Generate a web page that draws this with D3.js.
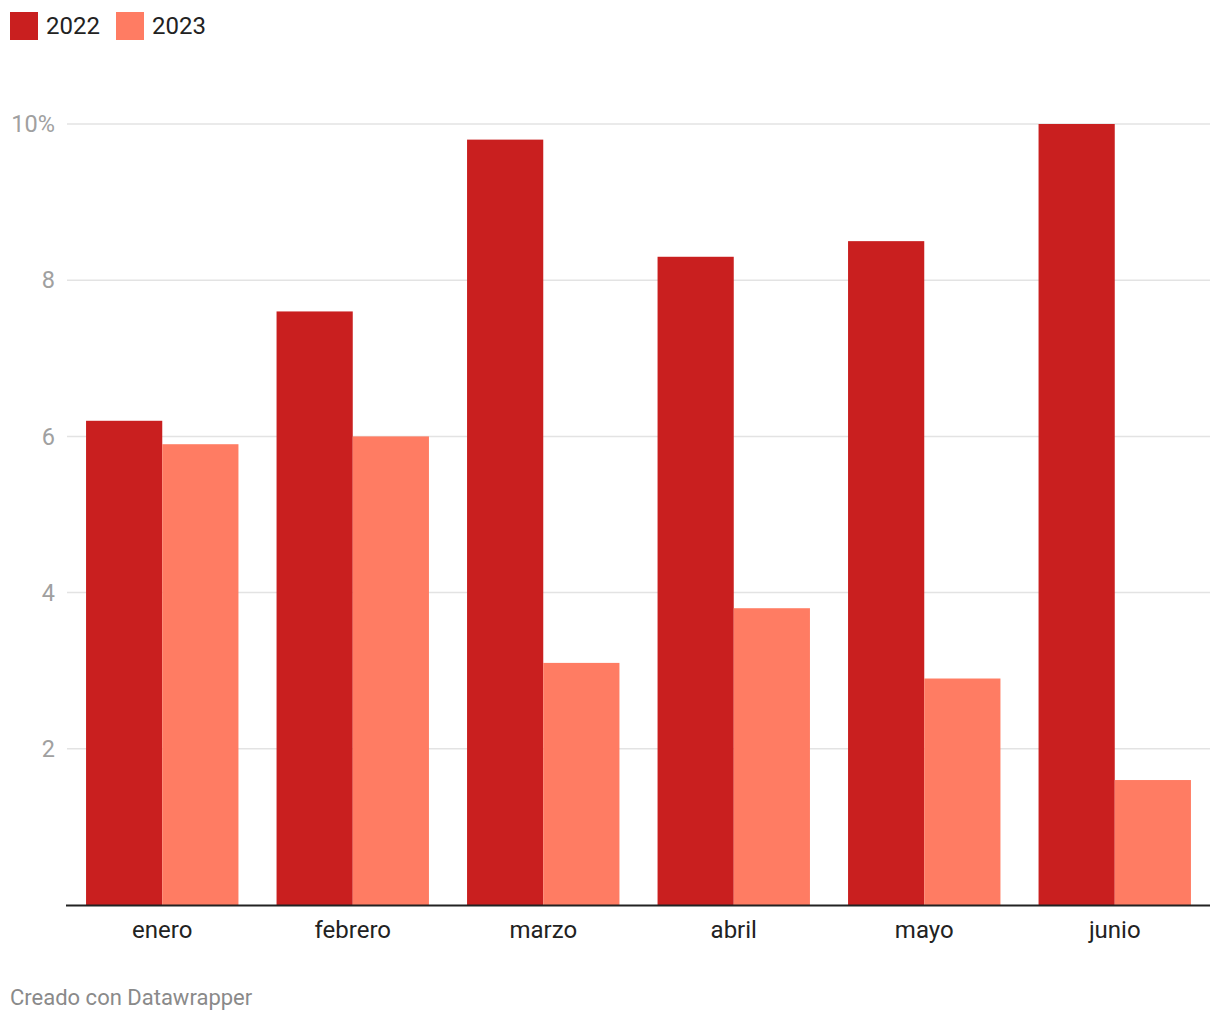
<!DOCTYPE html>
<meta charset="utf-8">
<style>
body { margin: 0; background: #fff; }
svg text { font-family: Roboto, "Noto Sans", sans-serif; }
.grid line { stroke: #e3e3e3; stroke-width: 1.5px; }
.ytick { font-size: 23.5px; fill: #a0a0a0; }
.xtick { font-size: 24px; fill: #222; }
.legend text { font-size: 24px; fill: #222; }
.footer { font-size: 22px; fill: #8a8a8a; }
</style>
<svg width="1220" height="1020"></svg>
<script src="https://d3js.org/d3.v7.min.js"></script>
<script>

var months = ["enero", "febrero", "marzo", "abril", "mayo", "junio"];
var years = ["2022", "2023"];
var values2022 = [6.2, 7.6, 9.8, 8.3, 8.5, 10.0];
var values2023 = [5.9, 6.0, 3.1, 3.8, 2.9, 1.6];
var yTicks = [2, 4, 6, 8, 10];
var colors = ["#c91f1f", "#ff7c63"];

var svg = d3.select("svg");
var margin = {left: 67, right: 10, top: 124, bottom: 115};
var width = 1220, height = 1020;

var series = [values2022, values2023];

var x = d3.scaleBand()
    .domain(months)
    .range([margin.left, width - margin.right])
    .paddingInner(0.2)
    .paddingOuter(0.1);

var xs = d3.scaleBand()
    .domain(years)
    .range([0, x.bandwidth()]);

var y = d3.scaleLinear()
    .domain([0, 10])
    .range([height - margin.bottom, margin.top]);

// grid lines
svg.append("g")
    .attr("class", "grid")
  .selectAll("line")
  .data(yTicks)
  .enter().append("line")
    .attr("x1", margin.left)
    .attr("x2", width - margin.right)
    .attr("y1", function(d) { return y(d); })
    .attr("y2", function(d) { return y(d); });

svg.append("g")
  .selectAll("text")
  .data(yTicks)
  .enter().append("text")
    .attr("class", "ytick")
    .attr("x", 55)
    .attr("y", function(d) { return y(d); })
    .attr("dy", "0.35em")
    .attr("text-anchor", "end")
    .text(function(d) { return d == 10 ? "10%" : d; });

// bars
var groups = svg.append("g")
  .selectAll("g")
  .data(months)
  .enter().append("g")
    .attr("transform", function(d) { return "translate(" + x(d) + ",0)"; });

groups.selectAll("rect")
  .data(function(d, i) { return years.map(function(yr, j) { return {year: yr, value: series[j][i], k: j}; }); })
  .enter().append("rect")
    .attr("x", function(d) { return xs(d.year); })
    .attr("width", xs.bandwidth())
    .attr("y", function(d) { return y(d.value); })
    .attr("height", function(d) { return y(0) - y(d.value); })
    .attr("fill", function(d) { return colors[d.k]; });

// baseline
svg.append("line")
    .attr("x1", 66)
    .attr("x2", width - margin.right)
    .attr("y1", y(0) + 0.5)
    .attr("y2", y(0) + 0.5)
    .attr("stroke", "#222")
    .attr("stroke-width", 2);

svg.append("g")
  .selectAll("text")
  .data(months)
  .enter().append("text")
    .attr("class", "xtick")
    .attr("x", function(d) { return x(d) + x.bandwidth() / 2; })
    .attr("y", y(0) + 25)
    .attr("dy", "0.35em")
    .attr("text-anchor", "middle")
    .text(function(d) { return d; });

// legend
var legend = svg.append("g").attr("class", "legend");
var lx = [10, 116];
years.forEach(function(yr, i) {
  legend.append("rect")
      .attr("x", lx[i]).attr("y", 12)
      .attr("width", 28).attr("height", 28)
      .attr("fill", colors[i]);
  legend.append("text")
      .attr("x", lx[i] + 36).attr("y", 26)
      .attr("dy", "0.35em")
      .text(yr);
});

svg.append("text")
    .attr("class", "footer")
    .attr("x", 10)
    .attr("y", 997)
    .attr("dy", "0.35em")
    .text("Creado con Datawrapper");

</script>
